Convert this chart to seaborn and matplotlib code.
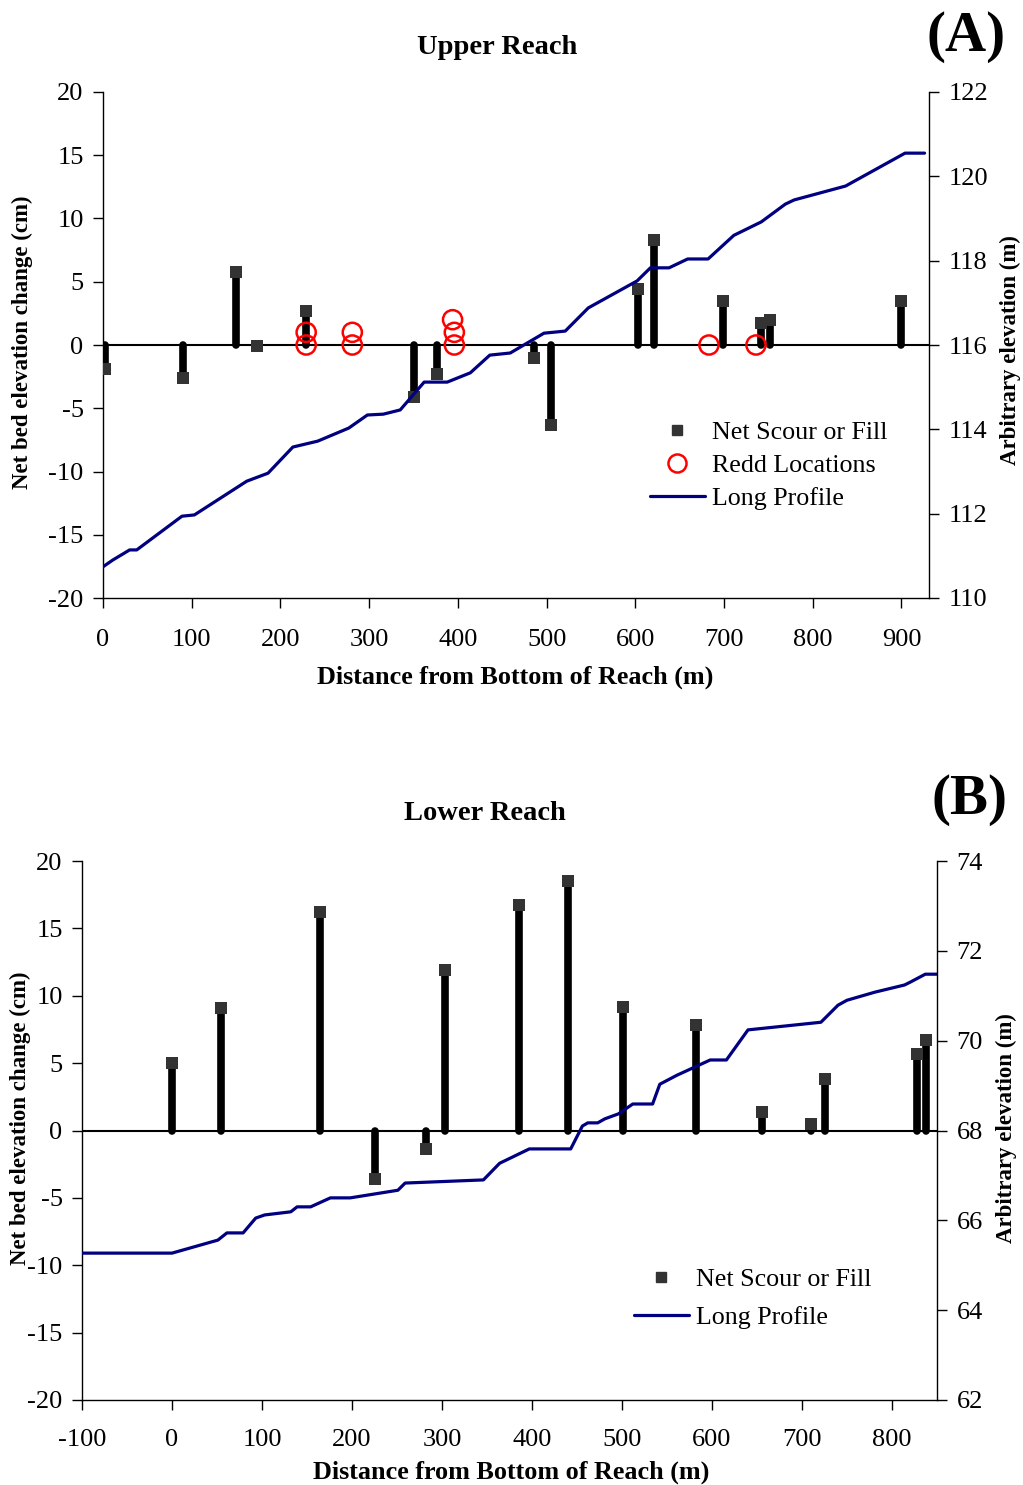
import matplotlib
matplotlib.use("Agg")
import matplotlib.pyplot as plt
from matplotlib.lines import Line2D
import seaborn as sns
import pandas as pd

# ---------------- data ----------------
upper_x = [2, 90, 150, 174, 229, 350, 377, 486, 505, 603, 621, 699, 742, 752, 899]
upper_change = [-1.9, -2.6, 5.8, -0.1, 2.7, -4.1, -2.3, -1.0, -6.3, 4.4, 8.3, 3.5, 1.7, 2.0, 3.5]

redd_x = [229, 229, 281, 281, 394, 396, 396, 683, 736]
redd_y = [0, 1, 0, 1, 2, 1, 0, 0, 0]

upper_prof_x = [0, 11, 30, 38, 89, 103, 162, 186, 214, 242, 277, 298, 316, 335, 362,
                388, 414, 436, 459, 497, 521, 547, 602, 617, 638, 659, 682, 711, 742,
                769, 779, 837, 904, 926]
upper_prof_elev = [110.74, 110.9, 111.14, 111.14, 111.94, 111.97, 112.77, 112.96, 113.58,
                   113.72, 114.03, 114.34, 114.36, 114.46, 115.12, 115.12, 115.34, 115.76,
                   115.81, 116.28, 116.33, 116.88, 117.52, 117.83, 117.83, 118.04, 118.04,
                   118.6, 118.92, 119.34, 119.44, 119.77, 120.55, 120.55]

lower_x = [0, 54, 164, 226, 282, 303, 386, 440, 501, 582, 656, 710, 726, 828, 838]
lower_change = [5.0, 9.1, 16.2, -3.6, -1.4, 11.9, 16.7, 18.5, 9.2, 7.8, 1.4, 0.45, 3.8, 5.7, 6.7]

lower_prof_x = [-100, 0, 51, 61, 79, 93, 103, 132, 139, 154, 176, 198, 251, 259, 346, 364,
                397, 443, 456, 462, 473, 481, 496, 512, 534, 542, 561, 598, 616, 640, 721,
                740, 750, 781, 814, 820, 837, 850]
lower_prof_elev = [65.27, 65.27, 65.56, 65.72, 65.72, 66.05, 66.12, 66.19, 66.30, 66.30,
                   66.5, 66.5, 66.67, 66.83, 66.9, 67.27, 67.59, 67.59, 68.1, 68.17, 68.17,
                   68.26, 68.37, 68.59, 68.59, 69.03, 69.23, 69.57, 69.57, 70.24, 70.41,
                   70.79, 70.9, 71.08, 71.24, 71.3, 71.48, 71.48]

upper_xticks = list(range(0, 901, 100))
lower_xticks = list(range(-100, 801, 100))
left_yticks = list(range(-20, 21, 5))
upper_ryticks = list(range(110, 123, 2))
lower_ryticks = list(range(62, 75, 2))

# ---------------- style ----------------
sns.set_theme(style="white")
plt.rcParams["font.family"] = ["Liberation Serif", "DejaVu Serif"]
plt.rcParams["axes.unicode_minus"] = False
for k in ["text.color", "axes.labelcolor", "xtick.color", "ytick.color", "axes.edgecolor"]:
    plt.rcParams[k] = "black"

NAVY = "#000080"
SQ = "#333333"
TICK_FS = 19
LAB_FS = 16.5
W, H = 1023, 1485

fig = plt.figure(figsize=(W / 100, H / 100), dpi=100)


def make_panel(rect, xs, ch, px, pe, xlim, xticks, rlim, rticks, ylab_pos, rlab_pos,
               xpad, redds=None):
    ax = fig.add_axes(rect)
    df = pd.DataFrame({"x": xs, "change": ch})
    ax.vlines(df["x"], 0, df["change"], color="black", linewidth=5.5,
              capstyle="round", zorder=2)
    ax.axhline(0, color="black", linewidth=1.5, zorder=1)
    sns.scatterplot(data=df, x="x", y="change", marker="s", s=75, color=SQ,
                    edgecolor=SQ, linewidth=0, ax=ax, zorder=3, legend=False)
    if redds is not None:
        rdf = pd.DataFrame({"x": redds[0], "y": redds[1]})
        sns.scatterplot(data=rdf, x="x", y="y", marker="o", s=190,
                        facecolor="none", edgecolor="red", linewidth=1.8,
                        ax=ax, zorder=4, legend=False)
    ax.set_xlim(*xlim)
    ax.set_ylim(-20, 20)
    ax.set_xticks(xticks)
    ax.set_yticks(left_yticks)
    ax.set_xlabel("")
    ax.set_ylabel("Net bed elevation change (cm)", fontsize=LAB_FS, fontweight="bold")
    ax.yaxis.set_label_coords(ylab_pos[0] / W, 1 - ylab_pos[1] / H,
                              transform=fig.transFigure)
    ax.yaxis.label.set_verticalalignment("center")
    ax.yaxis.label.set_horizontalalignment("center")
    ax.tick_params(axis="y", direction="out", length=7, width=1,
                   labelsize=TICK_FS, left=True, pad=7)
    ax.tick_params(axis="x", direction="out", length=7, width=1,
                   labelsize=TICK_FS, bottom=True, pad=xpad)
    for s in ["left", "bottom"]:
        ax.spines[s].set_color("black")
        ax.spines[s].set_linewidth(1)
    ax.spines["top"].set_visible(False)
    ax.spines["right"].set_visible(False)

    ax2 = ax.twinx()
    pdf = pd.DataFrame({"x": px, "elev": pe})
    sns.lineplot(data=pdf, x="x", y="elev", sort=False, estimator=None,
                 color=NAVY, linewidth=2.3, ax=ax2)
    ax2.set_ylim(*rlim)
    ax2.set_yticks(rticks)
    ax2.set_xlim(*xlim)
    ax2.set_ylabel("Arbitrary elevation (m)", fontsize=LAB_FS, fontweight="bold")
    ax2.yaxis.set_label_coords(rlab_pos[0] / W, 1 - rlab_pos[1] / H,
                               transform=fig.transFigure)
    ax2.yaxis.label.set_verticalalignment("center")
    ax2.yaxis.label.set_horizontalalignment("center")
    ax2.tick_params(axis="y", direction="out", length=7, width=1,
                    labelsize=TICK_FS, right=True, pad=7)
    ax2.spines["top"].set_visible(False)
    ax2.spines["left"].set_visible(False)
    ax2.spines["bottom"].set_visible(False)
    ax2.spines["right"].set_color("black")
    ax2.spines["right"].set_linewidth(1)
    return ax, ax2


# Upper panel
axA, axA2 = make_panel([103 / W, 1 - 598 / H, 826 / W, 506 / H],
                       upper_x, upper_change, upper_prof_x, upper_prof_elev,
                       (0, 931), upper_xticks, (110, 122), upper_ryticks,
                       (22, 342), (1010, 350), 15, redds=(redd_x, redd_y))
# Lower panel
axB, axB2 = make_panel([82 / W, 1 - 1400 / H, 855 / W, 539 / H],
                       lower_x, lower_change, lower_prof_x, lower_prof_elev,
                       (-100, 850), lower_xticks, (62, 74), lower_ryticks,
                       (20, 1118), (1006, 1128), 14)

# titles and labels
fig.text(497 / W, 1 - 48 / H, "Upper Reach", ha="center", va="center",
         fontsize=20.5, fontweight="bold")
fig.text(485 / W, 1 - 813 / H, "Lower Reach", ha="center", va="center",
         fontsize=20.5, fontweight="bold")
fig.text(515 / W, 1 - 677 / H, "Distance from Bottom of Reach (m)",
         ha="center", va="center", fontsize=18.8, fontweight="bold")
fig.text(511 / W, 1 - 1472 / H, "Distance from Bottom of Reach (m)",
         ha="center", va="center", fontsize=18.8, fontweight="bold")
fig.text(966 / W, 1 - 37 / H, "(A)", ha="center", va="center",
         fontsize=41, fontweight="bold")
fig.text(970 / W, 1 - 800 / H, "(B)", ha="center", va="center",
         fontsize=41, fontweight="bold")

# legends
h_sq = Line2D([], [], marker="s", linestyle="none", color=SQ, markersize=7.5)
h_rd = Line2D([], [], marker="o", linestyle="none", markerfacecolor="none",
              markeredgecolor="red", markeredgewidth=1.8, markersize=13)
h_ln = Line2D([], [], color=NAVY, linewidth=2.3)
fig.legend([h_sq, h_rd, h_ln], ["Net Scour or Fill", "Redd Locations", "Long Profile"],
           loc="upper left", bbox_to_anchor=(650 / W, 1 - 421 / H),
           frameon=False, fontsize=18.7, handlelength=2.1, handletextpad=0.3,
           labelspacing=0.38, borderpad=0, borderaxespad=0)
fig.legend([h_sq, h_ln], ["Net Scour or Fill", "Long Profile"],
           loc="upper left", bbox_to_anchor=(634 / W, 1 - 1268 / H),
           frameon=False, fontsize=18.7, handlelength=2.1, handletextpad=0.3,
           labelspacing=0.58, borderpad=0, borderaxespad=0)

fig.savefig("out.png", dpi=100)
